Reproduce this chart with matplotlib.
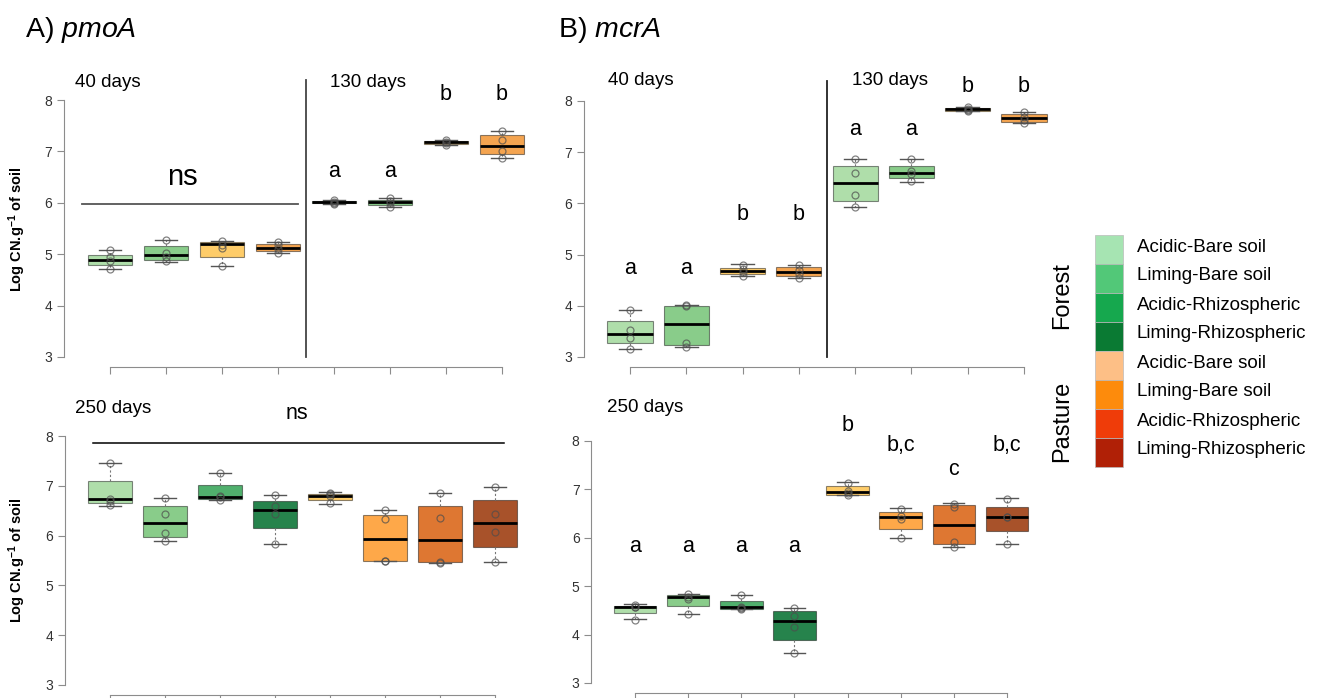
import matplotlib
matplotlib.use('Agg')
import matplotlib.pyplot as plt
from matplotlib.colors import to_rgba

plt.rcParams['font.family'] = ['Liberation Sans', 'DejaVu Sans']
plt.rcParams['mathtext.fontset'] = 'custom'
plt.rcParams['mathtext.rm'] = 'Liberation Sans'
plt.rcParams['mathtext.it'] = 'Liberation Sans:italic'
plt.rcParams['mathtext.bf'] = 'Liberation Sans:bold'

W, H = 1323, 698

# pmoA, 40 days (boxes 1-4) and 130 days (boxes 5-8)
pmoa_top_lo = [4.71, 4.85, 4.78, 5.02, 5.98, 5.92, 7.12, 6.88]
pmoa_top_q1 = [4.79, 4.89, 4.95, 5.06, 5.99, 5.95, 7.14, 6.94]
pmoa_top_med = [4.89, 4.99, 5.19, 5.12, 6.01, 6.01, 7.18, 7.11]
pmoa_top_q3 = [4.99, 5.15, 5.23, 5.19, 6.03, 6.06, 7.21, 7.32]
pmoa_top_hi = [5.08, 5.27, 5.25, 5.24, 6.05, 6.09, 7.22, 7.40]
pmoa_top_pts = [[5.08, 4.95, 4.86, 4.71], [5.27, 5.03, 4.95, 4.87],
                [5.25, 5.18, 5.13, 4.78], [5.24, 5.17, 5.10, 5.03],
                [6.05, 6.02, 6.00, 5.98], [6.09, 6.04, 5.99, 5.92],
                [7.22, 7.19, 7.16, 7.12], [7.40, 7.22, 7.00, 6.88]]
pmoa_top_letters = ['', '', '', '', 'a', 'a', 'b', 'b']
pmoa_top_letter_y = [0, 0, 0, 0, 6.6, 6.6, 8.1, 8.1]

# mcrA, 40 days and 130 days
mcra_top_lo = [3.15, 3.19, 4.58, 4.55, 5.92, 6.42, 7.80, 7.57]
mcra_top_q1 = [3.27, 3.24, 4.63, 4.58, 6.04, 6.50, 7.81, 7.59]
mcra_top_med = [3.45, 3.65, 4.68, 4.66, 6.39, 6.60, 7.84, 7.66]
mcra_top_q3 = [3.71, 4.00, 4.74, 4.76, 6.73, 6.73, 7.86, 7.75]
mcra_top_hi = [3.92, 4.01, 4.81, 4.79, 6.87, 6.86, 7.88, 7.78]
mcra_top_pts = [[3.92, 3.52, 3.38, 3.15], [4.01, 4.00, 3.28, 3.19],
                [4.80, 4.72, 4.66, 4.58], [4.79, 4.70, 4.63, 4.55],
                [6.87, 6.60, 6.17, 5.92], [6.86, 6.63, 6.57, 6.44],
                [7.88, 7.84, 7.82, 7.80], [7.78, 7.68, 7.62, 7.58]]
mcra_top_letters = ['a', 'a', 'b', 'b', 'a', 'a', 'b', 'b']
mcra_top_letter_y = [4.73, 4.73, 5.79, 5.79, 7.45, 7.45, 8.29, 8.29]

# pmoA, 250 days
pmoa_bot_lo = [6.60, 5.90, 6.71, 5.84, 6.64, 5.50, 5.45, 5.47]
pmoa_bot_q1 = [6.66, 5.98, 6.74, 6.15, 6.71, 5.50, 5.46, 5.78]
pmoa_bot_med = [6.73, 6.25, 6.78, 6.51, 6.80, 5.93, 5.91, 6.26]
pmoa_bot_q3 = [7.10, 6.59, 7.02, 6.70, 6.84, 6.41, 6.60, 6.71]
pmoa_bot_hi = [7.45, 6.76, 7.26, 6.81, 6.87, 6.51, 6.86, 6.98]
pmoa_bot_pts = [[7.45, 6.74, 6.70, 6.62], [6.76, 6.44, 6.05, 5.90],
                [7.26, 6.79, 6.77, 6.72], [6.81, 6.60, 6.43, 5.84],
                [6.86, 6.83, 6.80, 6.65], [6.51, 6.33, 5.50, 5.50],
                [6.86, 6.35, 5.47, 5.45], [6.98, 6.43, 6.07, 5.47]]

# mcrA, 250 days
mcra_bot_lo = [4.32, 4.43, 4.53, 3.62, 6.88, 6.00, 5.81, 5.87]
mcra_bot_q1 = [4.44, 4.59, 4.53, 3.89, 6.89, 6.19, 5.87, 6.15]
mcra_bot_med = [4.56, 4.77, 4.56, 4.29, 6.94, 6.44, 6.27, 6.44]
mcra_bot_q3 = [4.60, 4.82, 4.70, 4.48, 7.07, 6.54, 6.67, 6.63]
mcra_bot_hi = [4.63, 4.83, 4.82, 4.55, 7.15, 6.61, 6.72, 6.82]
mcra_bot_pts = [[4.62, 4.58, 4.56, 4.31], [4.83, 4.78, 4.74, 4.43],
                [4.81, 4.57, 4.55, 4.53], [4.55, 4.38, 4.15, 3.62],
                [7.14, 6.97, 6.92, 6.88], [6.59, 6.45, 6.38, 6.00],
                [6.70, 6.63, 5.92, 5.82], [6.81, 6.44, 6.44, 5.87]]
mcra_bot_letters = ['a', 'a', 'a', 'a', 'b', 'b,c', 'c', 'b,c']
mcra_bot_letter_y = [5.82, 5.82, 5.82, 5.82, 8.31, 7.91, 7.41, 7.91]

top_colors = ['#a1d99b', '#74c476', '#fec44f', '#f39431'] * 2
bot_colors = ['#a1d99b', '#74c476', '#31a354', '#006d2c',
              '#fec44f', '#fe9929', '#d95f0e', '#993404']

legend_labels = ['Acidic-Bare soil', 'Liming-Bare soil',
                 'Acidic-Rhizospheric', 'Liming-Rhizospheric'] * 2
legend_colors = ['#a6e4b2', '#52c878', '#16a84e', '#0a7a33',
                 '#fdbf86', '#fd8b0c', '#ef3c09', '#b02006']

fig = plt.figure(figsize=(W / 100, H / 100), dpi=100)


def place(x1, x8, y8, y3):
    # pixel positions of box 1, box 8, value 8 and value 3
    px = (x8 - x1) / 7
    py = (y3 - y8) / 5
    left, right = x1 - 0.82 * px, x8 + 0.82 * px
    top, bottom = y8 - 0.2 * py, y3 + 0.2 * py
    ax = fig.add_axes([left / W, 1 - bottom / H, (right - left) / W, (bottom - top) / H])
    ax.patch.set_visible(False)
    for s in ['top', 'right']:
        ax.spines[s].set_visible(False)
    for s in ['left', 'bottom']:
        ax.spines[s].set_color('#8c8c8c')
    return ax


def finish(ax):
    ax.set_xlim(0.18, 8.82)
    ax.set_ylim(2.8, 8.2)
    ax.spines['left'].set_bounds(3, 8)
    ax.spines['bottom'].set_bounds(1, 8)
    ax.set_yticks(range(3, 9))
    ax.set_xticks(range(1, 9))
    ax.tick_params(colors='#8c8c8c', labelcolor='#333333', length=5, labelsize=10)
    ax.tick_params(axis='x', labelbottom=False)


def draw_boxes(ax, lo, q1, med, q3, hi, pts, colors):
    stats = [dict(whislo=a, q1=b, med=c, q3=d, whishi=e, fliers=[])
             for a, b, c, d, e in zip(lo, q1, med, q3, hi)]
    bp = ax.bxp(stats, positions=range(1, 9), widths=0.8, capwidths=0.4,
                patch_artist=True, showfliers=False,
                boxprops=dict(linewidth=0.8, edgecolor=(0, 0, 0, 0.45)),
                medianprops=dict(color='black', linewidth=2.0),
                whiskerprops=dict(color='#777777', linestyle=(0, (2, 2)), linewidth=0.8),
                capprops=dict(color='#555555', linewidth=1.0))
    for patch, c in zip(bp['boxes'], colors):
        patch.set_facecolor(to_rgba(c, 0.85))
    for i, p in enumerate(pts):
        ax.plot([i + 1] * len(p), p, 'o', mfc='none', mec=(0.3, 0.3, 0.3, 0.7),
                ms=5, mew=0.9, zorder=5)
    finish(ax)


def letters(ax, labs, ys):
    for i, (t, y) in enumerate(zip(labs, ys)):
        if t:
            ax.text(i + 1, y, t, ha='center', va='center', fontsize=15.5)


# A) pmoA 40 / 130 days
ax1 = place(110, 502, 100, 357)
draw_boxes(ax1, pmoa_top_lo, pmoa_top_q1, pmoa_top_med, pmoa_top_q3, pmoa_top_hi,
           pmoa_top_pts, top_colors)
letters(ax1, pmoa_top_letters, pmoa_top_letter_y)
ax1.plot([4.5, 4.5], [3.0, 8.39], color='#444444', lw=1.3, clip_on=False)
ax1.plot([0.5, 4.36], [5.98, 5.98], color='#555555', lw=1.3)
ax1.text(2.3, 6.5, 'ns', ha='center', va='center', fontsize=21)
ax1.text(0.375, 8.35, '40 days', ha='left', va='center', fontsize=13.5)
ax1.text(4.93, 8.35, '130 days', ha='left', va='center', fontsize=13.5)

# B) mcrA 40 / 130 days
ax2 = place(630, 1024, 101, 357)
draw_boxes(ax2, mcra_top_lo, mcra_top_q1, mcra_top_med, mcra_top_q3, mcra_top_hi,
           mcra_top_pts, top_colors)
letters(ax2, mcra_top_letters, mcra_top_letter_y)
ax2.plot([4.5, 4.5], [3.0, 8.39], color='#222222', lw=1.3, clip_on=False)
ax2.text(0.61, 8.41, '40 days', ha='left', va='center', fontsize=13.5)
ax2.text(4.94, 8.41, '130 days', ha='left', va='center', fontsize=13.5)

# A) pmoA 250 days
ax3 = place(110, 495, 436, 685)
draw_boxes(ax3, pmoa_bot_lo, pmoa_bot_q1, pmoa_bot_med, pmoa_bot_q3, pmoa_bot_hi,
           pmoa_bot_pts, bot_colors)
ax3.plot([0.69, 8.16], [7.86, 7.86], color='black', lw=1.1, clip_on=False)
ax3.text(4.4, 8.45, 'ns', ha='center', va='center', fontsize=15.5)
ax3.text(0.36, 8.56, '250 days', ha='left', va='center', fontsize=13.5)

# B) mcrA 250 days
ax4 = place(635, 1007, 441, 683)
draw_boxes(ax4, mcra_bot_lo, mcra_bot_q1, mcra_bot_med, mcra_bot_q3, mcra_bot_hi,
           mcra_bot_pts, bot_colors)
letters(ax4, mcra_bot_letters, mcra_bot_letter_y)
ax4.text(0.47, 8.70, '250 days', ha='left', va='center', fontsize=13.5)

ylab = r'Log CN.g$^{\mathbf{-1}}$ of soil'
fig.text(17 / W, 1 - 229 / H, ylab, rotation=90, ha='center', va='center',
         fontsize=10.5, fontweight='bold')
fig.text(17 / W, 1 - 560 / H, ylab, rotation=90, ha='center', va='center',
         fontsize=10.5, fontweight='bold')

fig.text(25 / W, 1 - 30 / H, r'A) $\mathit{pmoA}$', ha='left', va='center', fontsize=20.5)
fig.text(558 / W, 1 - 30 / H, r'B) $\mathit{mcrA}$', ha='left', va='center', fontsize=20.5)

# legend
lg = fig.add_axes([0, 0, 1, 1])
lg.set_xlim(0, W)
lg.set_ylim(H, 0)
lg.axis('off')
for i, (lab, c) in enumerate(zip(legend_labels, legend_colors)):
    y0 = 235 + i * 29
    lg.add_patch(plt.Rectangle((1095, y0), 28, 29, facecolor=c, edgecolor='#bbbbbb', lw=0.5))
    lg.text(1137, y0 + 12, lab, ha='left', va='center', fontsize=13.5)
lg.text(1062, 296, 'Forest', rotation=90, ha='center', va='center', fontsize=17)
lg.text(1062, 421, 'Pasture', rotation=90, ha='center', va='center', fontsize=17)

fig.savefig('out.png', dpi=100)
